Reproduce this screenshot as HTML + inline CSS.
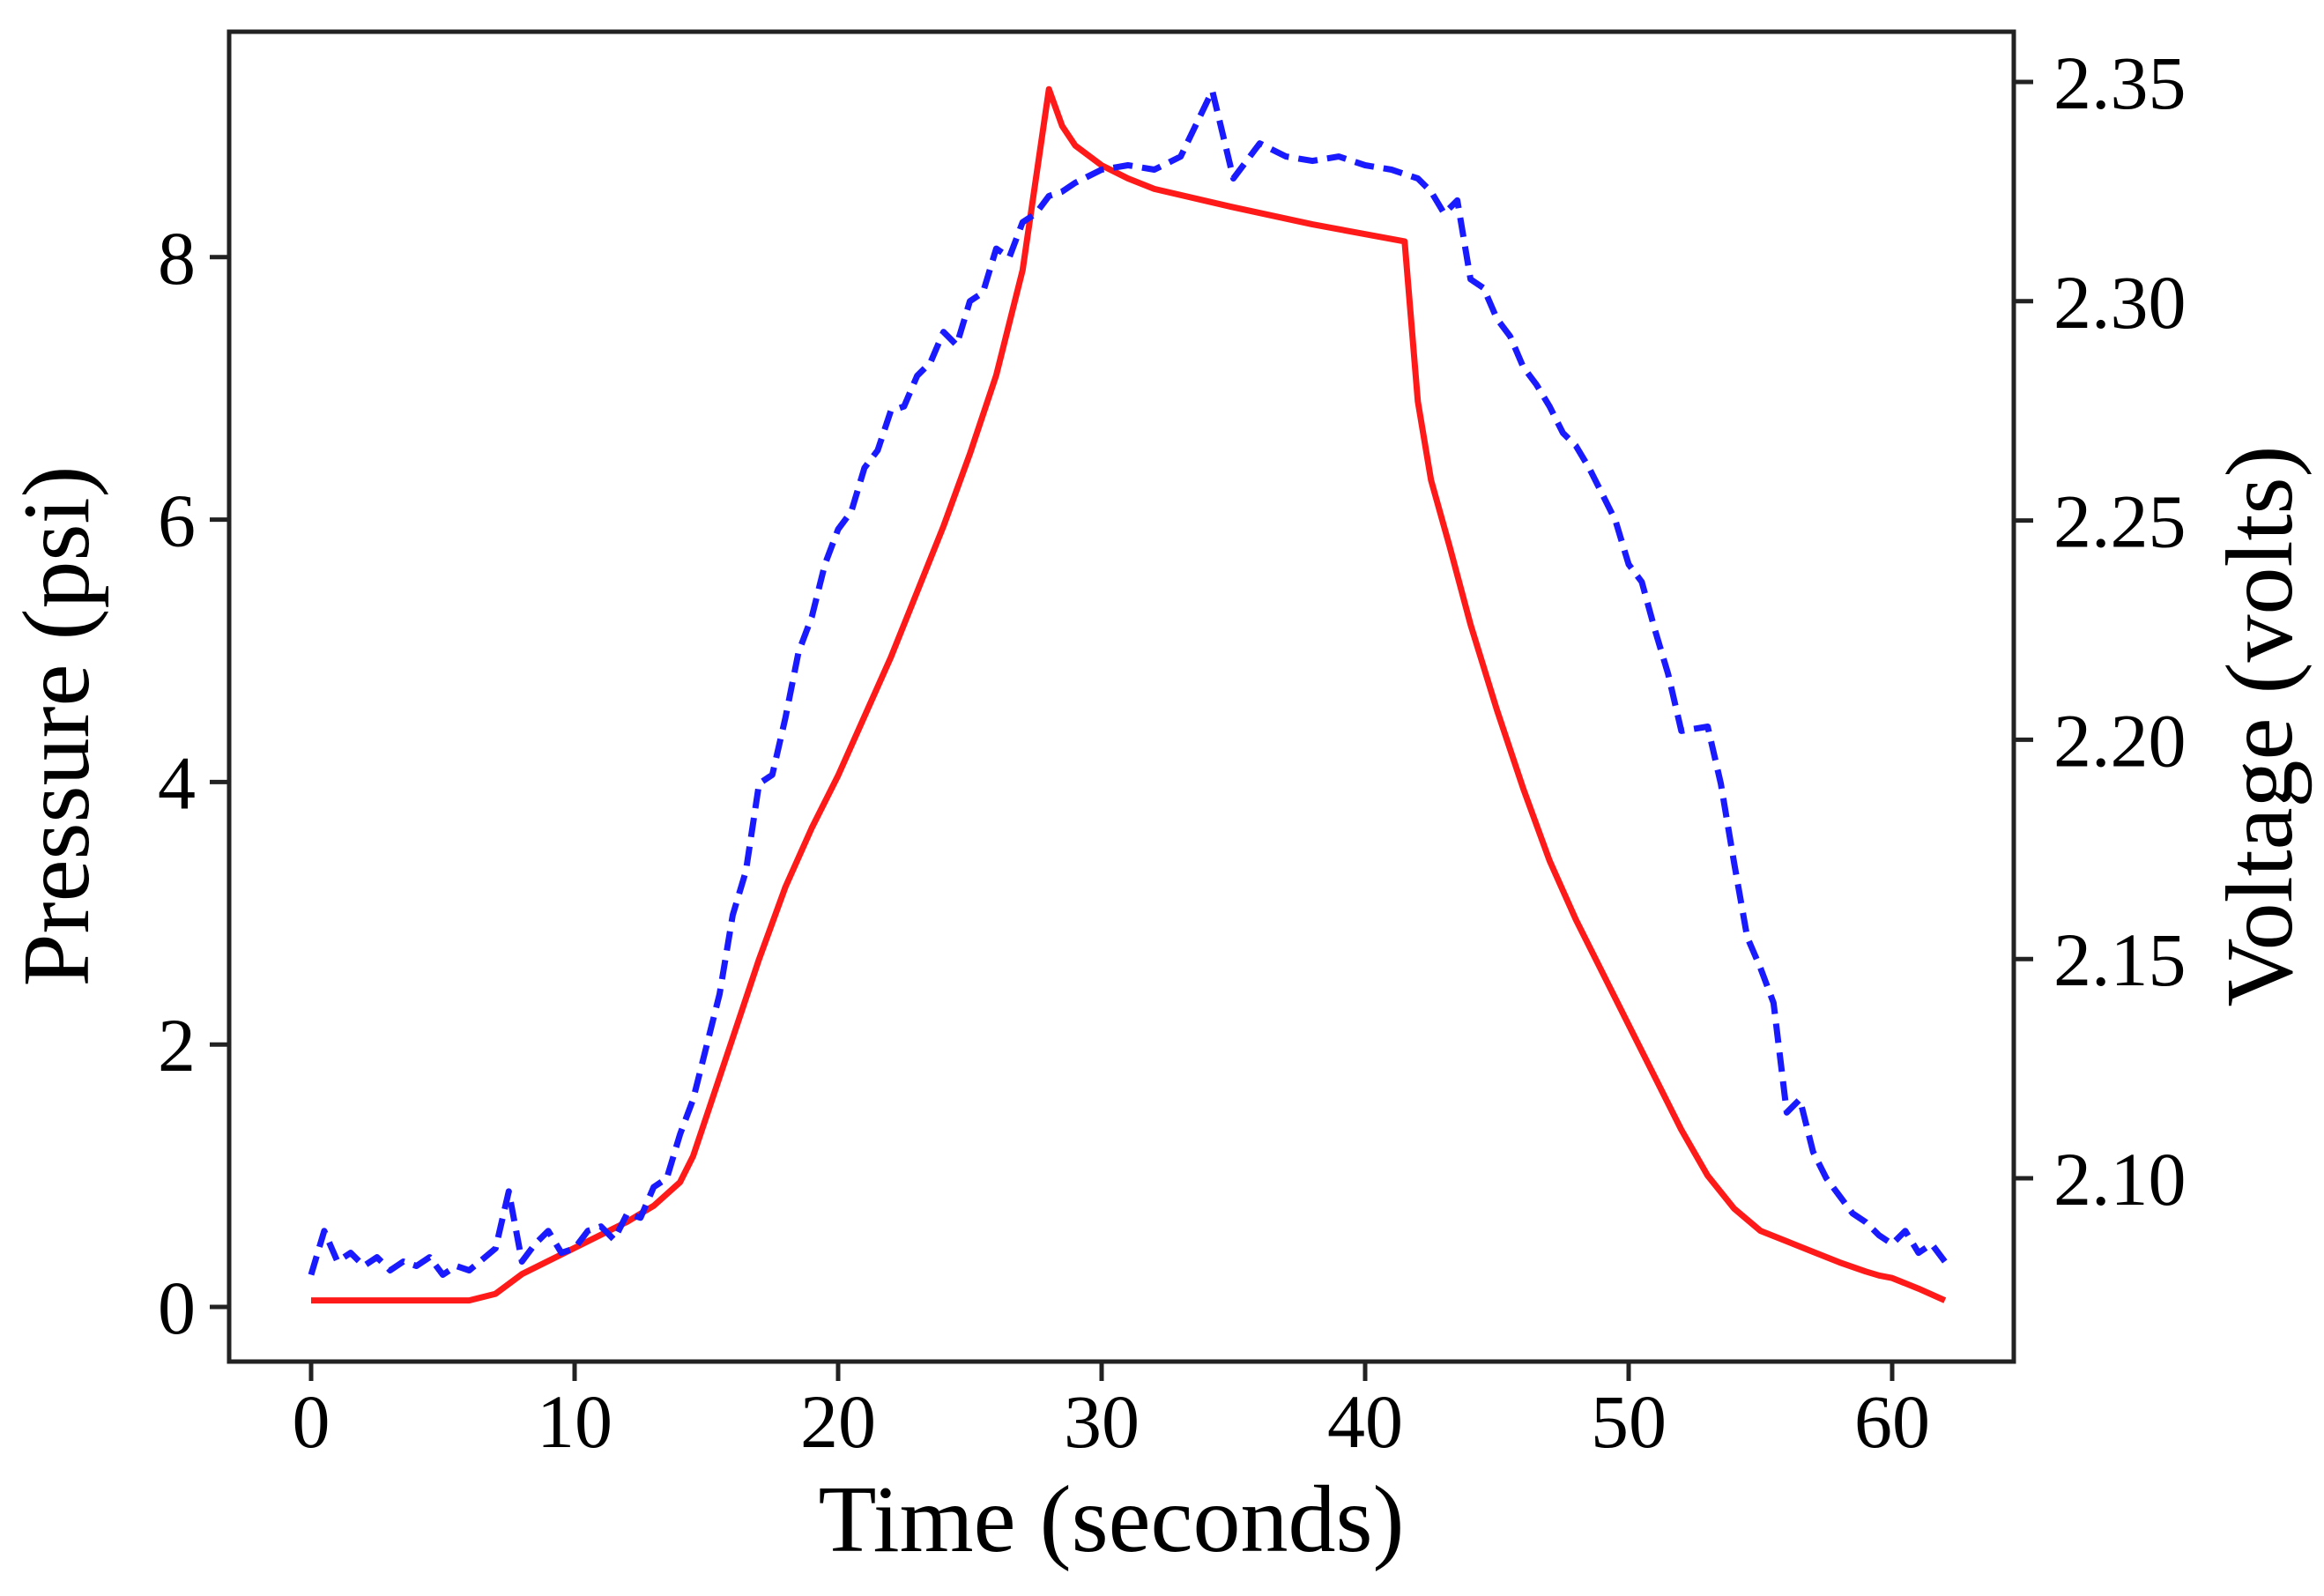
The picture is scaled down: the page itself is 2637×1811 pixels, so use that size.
<!DOCTYPE html>
<html><head><meta charset="utf-8">
<style>
html,body{margin:0;padding:0;background:#fff;}
svg{display:block;font-family:"Liberation Serif",serif;}
</style></head>
<body>
<svg id="chart" width="2637" height="1811" viewBox="0 0 2637 1811" xmlns="http://www.w3.org/2000/svg">
<rect x="0" y="0" width="2637" height="1811" fill="#fff"/>
<g id="plot"></g>
<rect x="260" y="36" width="2025" height="1509" fill="none" stroke="#222" stroke-width="5"/>
<g id="axes"></g>
<text x="1261" y="1760" font-size="108" text-anchor="middle">Time (seconds)</text>
<text transform="translate(100,824) rotate(-90)" font-size="108" text-anchor="middle">Pressure (psi)</text>
<text transform="translate(2600,824) rotate(-90)" font-size="108" text-anchor="middle">Voltage (volts)</text>
</svg>
<script>
const xTicks=[0,10,20,30,40,50,60];
const yLeftTicks=[0,2,4,6,8];
const yRightTicks=["2.10","2.15","2.20","2.25","2.30","2.35"];
const redTime=[0,6,7,8,9,10,11,12,13,14,14.5,15,16,17,18,19,20,21,22,23,24,25,26,27,28,28.5,29,30,31,32,35,38,41.5,42,42.5,43.2,44,45,46,47,48,49,50,51,52,53,54,55,56,57,58,59,59.5,60,61,62];
const redPressure=[0.05,0.05,0.1,0.25,0.35,0.45,0.55,0.65,0.77,0.95,1.15,1.45,2.05,2.65,3.2,3.65,4.05,4.5,4.95,5.45,5.95,6.5,7.1,7.9,9.28,9.0,8.85,8.7,8.6,8.52,8.38,8.25,8.12,6.9,6.3,5.8,5.2,4.55,3.95,3.4,2.95,2.55,2.15,1.75,1.35,1.0,0.75,0.58,0.5,0.42,0.34,0.27,0.24,0.22,0.14,0.05];
const blueTime=[0,0.5,1,1.5,2,2.5,3,3.5,4,4.5,5,5.5,6,7,7.5,8,8.5,9,9.5,10,10.5,11,11.5,12,12.5,13,13.5,14,14.5,15,15.5,16,16.5,17,17.5,18,18.5,19,19.5,20,20.5,21,21.5,22,22.5,23,23.5,24,24.5,25,25.5,26,26.5,27,27.5,28,28.5,29,30,31,32,33,34.2,35,36,37,38,39,40,41,42,42.5,43,43.5,44,44.5,45,45.5,46,46.5,47,47.5,48,48.5,49,49.5,50,50.5,51,51.5,52,53,53.5,54,54.5,55,55.5,56,56.5,57,57.5,58,58.5,59,59.5,60,60.5,61,61.5,62];
const blueVoltage=[2.078,2.088,2.081,2.083,2.080,2.082,2.079,2.081,2.080,2.082,2.078,2.080,2.079,2.084,2.097,2.081,2.085,2.088,2.083,2.084,2.088,2.089,2.086,2.092,2.091,2.098,2.100,2.110,2.118,2.130,2.142,2.160,2.170,2.190,2.192,2.205,2.220,2.228,2.240,2.248,2.252,2.262,2.266,2.275,2.276,2.283,2.286,2.293,2.290,2.300,2.302,2.312,2.310,2.318,2.320,2.324,2.325,2.327,2.330,2.331,2.330,2.333,2.348,2.328,2.336,2.333,2.332,2.333,2.331,2.330,2.328,2.325,2.320,2.323,2.305,2.303,2.296,2.292,2.285,2.281,2.276,2.270,2.267,2.262,2.256,2.250,2.240,2.236,2.225,2.215,2.202,2.203,2.190,2.172,2.155,2.148,2.140,2.115,2.118,2.106,2.100,2.096,2.092,2.090,2.087,2.085,2.088,2.083,2.085,2.081];

const NS="http://www.w3.org/2000/svg";
const X=t=>353+t*29.9;
const YL=p=>1483-p*148.9;
const YR=v=>1337-(v-2.10)*4976;
const plot=document.getElementById('plot');
const axes=document.getElementById('axes');

function mk(tag,attrs,parent){const e=document.createElementNS(NS,tag);for(const k in attrs)e.setAttribute(k,attrs[k]);parent.appendChild(e);return e;}

xTicks.forEach(t=>{
  const l=mk('line',{x1:X(t),x2:X(t),y1:1545,y2:1567,stroke:'#222','stroke-width':5},axes);
  
  
  const tx=mk('text',{x:X(t),y:1642,'font-size':86,'text-anchor':'middle'},axes);
  tx.textContent=t;
  
  
});
yLeftTicks.forEach(p=>{
  const l=mk('line',{x1:238,x2:260,y1:YL(p),y2:YL(p),stroke:'#222','stroke-width':5},axes);
  
  
  const tx=mk('text',{x:222,y:YL(p)+30,'font-size':86,'text-anchor':'end'},axes);
  tx.textContent=p;
  
  
});
yRightTicks.forEach(s=>{
  const v=parseFloat(s);
  const l=mk('line',{x1:2285,x2:2307,y1:YR(v),y2:YR(v),stroke:'#222','stroke-width':5},axes);
  
  
  const tx=mk('text',{x:2330,y:YR(v)+30,'font-size':86,'text-anchor':'start'},axes);
  tx.textContent=s;
  
  
});

const rd=redTime.map((t,i)=>(i?'L':'M')+X(t).toFixed(1)+','+YL(redPressure[i]).toFixed(1)).join('');
const red=mk('path',{d:rd,fill:'none',stroke:'#ff1a1a','stroke-width':7,'stroke-linejoin':'round'},plot);



const bd=blueTime.map((t,i)=>(i?'L':'M')+X(t).toFixed(1)+','+YR(blueVoltage[i]).toFixed(1)).join('');
const blue=mk('path',{d:bd,fill:'none',stroke:'#1a1aff','stroke-width':7,'stroke-dasharray':'22 11','stroke-linejoin':'round'},plot);


</script>
</body></html>
